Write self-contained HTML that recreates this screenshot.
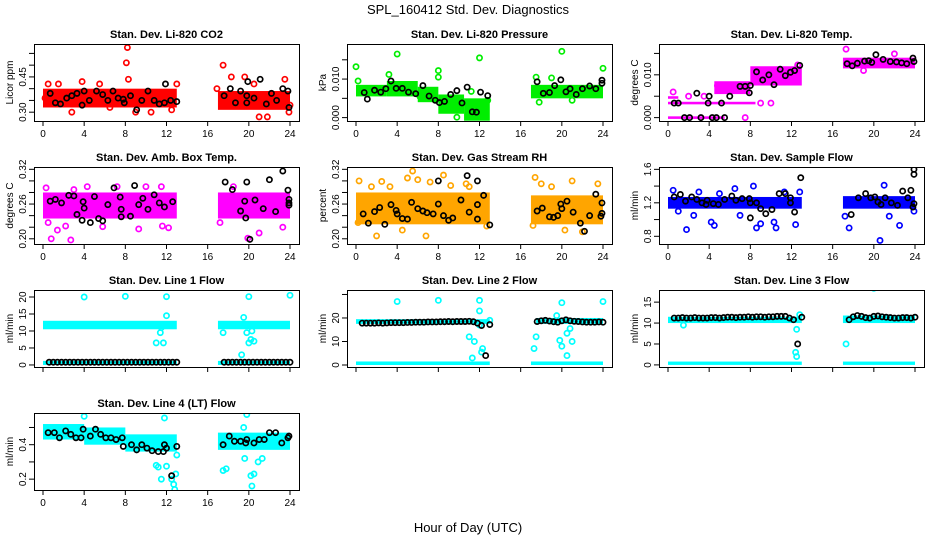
<!DOCTYPE html>
<html><head><meta charset="utf-8">
<style>
html,body{margin:0;padding:0;background:#fff;}
svg{display:block;font-family:"Liberation Sans",sans-serif;}
</style></head>
<body>
<svg id="chart" width="936" height="540" viewBox="0 0 936 540" xmlns="http://www.w3.org/2000/svg">
<text x="468" y="14" text-anchor="middle" font-size="13">SPL_160412  Std. Dev. Diagnostics</text>
<text x="468" y="532" text-anchor="middle" font-size="13">Hour of Day (UTC)</text>
<g id="panels"></g>
</svg>
<script>
// ---- shared x ticks ----
const xTicks = [0,4,8,12,16,20,24];
const chainHoursA = [0.6,1,1.4,1.8,2.2,2.6,3,3.4,3.8,4.2,4.6,5,5.4,5.8,6.2,6.6,7,7.4,7.8,8.2,8.6,9,9.4,9.8,10.2,10.6,11,11.4,11.8,12.2,12.6,13,17.6,18,18.4,18.8,19.2,19.6,20,20.4,20.8,21.2,21.6,22,22.4,22.8,23.2,23.6,24];

// ---- panel 1: CO2 ----
const co2Bands = [[0,13,0.32,0.40],[17,24,0.31,0.39]];
const co2Pts = [[8.2,0.575],[8.1,0.51],[3.8,0.43],[8.3,0.44],[17.5,0.50],[18.3,0.45],[19.6,0.45],[21,0.28],[21.8,0.28],[23.5,0.44],[0.5,0.42],[2.8,0.30],[9,0.30],[13,0.42],[5.5,0.42],[23.9,0.30],[20.5,0.42],[1.5,0.42],[6.5,0.32],[10.5,0.30],[12.5,0.31],[16.9,0.40],[0.2,0.36],[24,0.33]];
const co2Black = [[0.7,0.38],[1.2,0.34],[1.7,0.335],[2.3,0.36],[2.8,0.37],[3.3,0.38],[3.8,0.33],[4,0.39],[4.5,0.35],[5.2,0.39],[5.8,0.375],[6.3,0.35],[6.8,0.39],[7.3,0.36],[7.8,0.355],[7.9,0.34],[8.5,0.37],[9.1,0.31],[9.6,0.35],[10.2,0.39],[10.8,0.35],[11.3,0.335],[11.8,0.34],[11.9,0.42],[12.4,0.35],[13,0.345],[17.6,0.37],[18.2,0.40],[18.7,0.34],[19.2,0.39],[19.8,0.37],[19.8,0.34],[19.9,0.43],[20.5,0.36],[21.1,0.44],[21.7,0.335],[22.2,0.38],[22.7,0.35],[23.3,0.40],[23.8,0.39],[23.9,0.32]];
const co2Ticks = [0.30,0.35,0.40,0.45,0.50,0.55];
const co2Labels = ["0.30","","","0.45","",""];

// ---- panel 2: Pressure ----
const presBands = [[0,3,0.0055,0.0085],[3,6,0.0055,0.0095],[6,8,0.004,0.008],[8,10.5,0.001,0.006],[10.5,13,-0.0008,0.005],[17,24,0.005,0.0085]];
const presPts = [[0,0.0132],[0.2,0.0095],[4,0.0165],[12,0.0155],[20,0.0172],[24,0.0128],[8,0.0122],[8,0.0105],[3.2,0.0112],[17.5,0.0105],[6.2,0.0055],[9.8,0.0001],[11.2,0.0068],[12.8,0.0045],[21,0.0045],[19,0.0103],[17.8,0.004]];
const presBlack = [[0.8,0.0065],[1.1,0.0048],[1.8,0.0071],[2.4,0.0066],[2.9,0.0075],[3.4,0.0095],[3.9,0.0076],[4.5,0.0076],[5.1,0.0066],[5.8,0.0062],[6.5,0.0083],[7.1,0.0056],[7.7,0.0045],[8.1,0.0039],[8.6,0.0042],[9.2,0.006],[9.8,0.007],[10.3,0.0038],[10.8,0.0079],[11.3,0.0015],[11.7,0.0014],[12.1,0.0066],[12.8,0.0057],[17.6,0.0093],[18.2,0.0063],[18.8,0.0065],[19.3,0.0083],[19.9,0.0098],[20.4,0.0067],[20.8,0.0075],[21.4,0.006],[22,0.0075],[22.7,0.0082],[23.3,0.0075],[23.9,0.0097],[23.9,0.0089]];
const presTicks = [0,0.005,0.010,0.015];
const presLabels = ["0.000","","0.010",""];

// ---- panel 3: Li-820 Temp ----
const tempBands = [[0,5.5,-0.0003,0.0003],[0,8.5,0.0031,0.0037],[0,1,0.0044,0.005],[4.5,8,0.0055,0.0085],[8,13,0.0075,0.012],[17,24,0.0115,0.014]];
const tempPts = [[7.5,0],[17.3,0.016],[0.5,0.006],[4.8,0.0075],[12.6,0.0123],[19,0.011],[22,0.0149],[2,0.005],[3.5,0.005],[9,0.0034],[10,0.0034]];
const tempBlack = [[0.6,0.0034],[1,0.0034],[1.6,0],[2.1,0],[2.8,0.0057],[3.2,0],[3.9,0.0034],[4,0.005],[4.3,0],[4.7,0],[5.2,0.0034],[5.5,0],[6,0.005],[7,0.0073],[7.5,0.0073],[7.9,0.0058],[8,0.0075],[8.6,0.0107],[9.2,0.0088],[9.8,0.010],[10.3,0.0077],[10.9,0.0113],[11.4,0.0098],[11.9,0.0106],[12.3,0.011],[12.8,0.0122],[17.4,0.0126],[17.9,0.0121],[18.4,0.0127],[19.1,0.0132],[19.5,0.0133],[19.8,0.0129],[20.2,0.0147],[20.9,0.0136],[21.6,0.0131],[22.2,0.013],[22.7,0.0128],[23.2,0.0126],[23.8,0.0139],[23.9,0.0131]];
const tempTicks = [0,0.005,0.010,0.015];
const tempLabels = ["0.000","","0.010",""];

// ---- panel 4: Amb Box Temp ----
const ambBands = [[0,13,0.235,0.28],[17,24,0.235,0.28]];
const ambPts = [[0.3,0.288],[0.5,0.228],[0.8,0.2],[1.4,0.215],[2.2,0.222],[2.7,0.198],[4.3,0.29],[7.2,0.29],[11.5,0.29],[12.2,0.219],[17.2,0.228],[19.9,0.201],[21,0.21],[18.5,0.29],[11.6,0.222],[9.3,0.217],[5.8,0.221],[17.5,0.245],[23.3,0.22],[3,0.285],[10,0.29]];
const ambBlack = [[0.7,0.265],[1.2,0.268],[1.8,0.262],[2.5,0.275],[3,0.274],[3.3,0.242],[3.8,0.232],[3.9,0.264],[4,0.253],[4.6,0.228],[5,0.273],[5.4,0.235],[5.8,0.231],[6.3,0.259],[6.9,0.288],[7.5,0.272],[7.6,0.251],[7.6,0.238],[8.5,0.239],[8.9,0.292],[9.3,0.259],[9.7,0.27],[10.2,0.251],[10.8,0.276],[11.3,0.262],[11.8,0.255],[12.6,0.264],[17.7,0.298],[18.4,0.285],[19.2,0.248],[19.6,0.265],[19.7,0.236],[19.8,0.298],[20.1,0.199],[20.6,0.267],[21.4,0.252],[22,0.302],[22.6,0.247],[23.3,0.317],[23.8,0.284],[23.9,0.268],[23.9,0.262],[23.9,0.258]];
const ambTicks = [0.20,0.22,0.24,0.26,0.28,0.30,0.32];
const ambLabels = ["0.20","","","0.26","","","0.32"];

// ---- panel 5: Gas Stream RH ----
const rhBands = [[0,13,0.225,0.28],[17,24,0.225,0.275]];
const rhPts = [[0.3,0.3],[2.5,0.299],[3.3,0.29],[5.5,0.317],[6,0.302],[7.2,0.298],[8.5,0.31],[9.2,0.292],[10.7,0.295],[17.4,0.306],[18,0.295],[21,0.3],[23.5,0.295],[2,0.205],[6.8,0.205],[4.5,0.215],[12.7,0.222],[17.2,0.223],[20.3,0.215],[22,0.212],[0.2,0.228],[5,0.305],[11,0.29],[1.5,0.29],[19,0.29]];
const rhBlack = [[0.7,0.243],[1.2,0.227],[1.8,0.247],[2.3,0.254],[2.8,0.225],[3.4,0.259],[3.9,0.249],[4,0.243],[4.5,0.235],[5,0.234],[5.4,0.263],[6,0.252],[6.5,0.248],[6.9,0.245],[7.5,0.243],[8,0.26],[8,0.3],[8.5,0.24],[9,0.232],[9.4,0.236],[10.2,0.267],[10.8,0.309],[11,0.246],[11.8,0.259],[11.8,0.234],[11.8,0.3],[12.4,0.275],[13,0.224],[17.6,0.248],[18.1,0.253],[18.8,0.238],[19.2,0.237],[19.6,0.24],[19.9,0.26],[20,0.252],[20.5,0.265],[21.1,0.246],[21.8,0.227],[22.2,0.213],[22.7,0.24],[23.3,0.277],[23.8,0.239],[23.9,0.262],[23.9,0.244]];
const rhTicks = [0.20,0.22,0.24,0.26,0.28,0.30,0.32];
const rhLabels = ["0.20","","","0.26","","","0.32"];

// ---- panel 6: Sample Flow ----
const sfBands = [[0,13,1.13,1.27],[17,24,1.13,1.28]];
const sfPts = [[0.5,1.35],[1,1.1],[2.5,1.05],[3,1.33],[1.8,0.88],[4.2,0.97],[4.5,0.93],[6.5,1.37],[8.3,1.4],[8.6,0.9],[9,0.95],[10.3,0.97],[10.5,0.9],[12.4,0.94],[12.8,1.33],[17.2,1.04],[17.6,0.9],[20.6,0.75],[21,1.41],[21.5,1.04],[22.5,0.93],[23.9,1.1],[5,1.31],[11.3,1.33],[7,1.05]];
const sfBlack = [[0.6,1.27],[1.2,1.3],[1.7,1.22],[2.3,1.27],[2.8,1.24],[3.3,1.2],[3.7,1.18],[3.8,1.23],[4.4,1.19],[4.9,1.18],[5.5,1.24],[6.2,1.28],[6.6,1.23],[7.2,1.25],[7.9,1.25],[8,1.2],[8,1.02],[8.6,1.2],[9,1.13],[9.5,1.07],[10.1,1.12],[10.8,1.31],[11.4,1.31],[11.9,1.26],[11.9,1.2],[12.3,1.09],[12.9,1.5],[17.8,1.06],[18.5,1.26],[19.2,1.31],[19.7,1.26],[20.1,1.27],[20.4,1.21],[20.7,1.18],[21.1,1.26],[21.7,1.2],[22.3,1.17],[22.8,1.34],[23.3,1.26],[23.6,1.35],[23.9,1.6],[23.9,1.54],[23.9,1.19],[23.8,1.15]];
const sfTicks = [0.8,1.0,1.2,1.4,1.6];
const sfLabels = ["0.8","","1.2","","1.6"];

// ---- panel 7: Line 1 Flow ----
const l1Bands = [[0,13,10.5,13],[17,24,10.5,13],[0,13,0,1.2],[17,24,0,1.2]];
const l1Pts = [[4,20],[8,20.2],[12,20.1],[24,20.5],[20,20.1],[12,14.5],[11.4,9.5],[11,6.5],[11.7,6.5],[17.5,9.5],[19.5,14],[20,6.5],[20.2,7.5],[19.8,9.5],[20.3,10],[20.5,7],[19.3,3],[11.5,11]];
const l1BlackVals = [0.8,0.8,0.8,0.8,0.8,0.8,0.8,0.8,0.8,0.8,0.8,0.8,0.8,0.8,0.8,0.8,0.8,0.8,0.8,0.8,0.8,0.8,0.8,0.8,0.8,0.8,0.8,0.8,0.8,0.8,0.8,0.8,0.8,0.8,0.8,0.8,0.8,0.8,0.8,0.8,0.8,0.8,0.8,0.8,0.8,0.8,0.8,0.8,0.8];
const l1Ticks = [0,5,10,15,20];
const l1Labels = ["0","5","10","15","20"];

// ---- panel 8: Line 2 Flow ----
const l2Bands = [[0,13,17.5,19.5],[17.5,24,17.5,20],[0,13,0,1.5],[17,24,0,1.5]];
const l2Pts = [[4,27],[8,27.5],[12,27.5],[24,27],[20,26.5],[12,23],[11,12],[11.5,10],[12.3,7],[12.2,5.5],[17.5,12],[17.3,7],[19.8,10.5],[20,8],[20.5,4],[21,10],[20.5,13.5],[20.8,15.5],[19.5,21],[11.3,3],[12,17],[13,19]];
const l2BlackVals = [17.8,17.8,17.8,17.8,17.9,17.8,17.9,18,18,18,18,18.1,18.1,18.2,18.2,18.2,18.3,18.3,18.3,18.4,18.4,18.5,18.4,18.5,18.5,18.5,18.6,18.4,17.8,16.8,4,17.2,18.5,18.8,19,18.7,18.4,18.2,18.8,19.2,18.8,18.6,18.5,18.3,18.2,18.2,18.2,18.3,18.2];
const l2Ticks = [0,10,20,30];
const l2Labels = ["0","10","20",""];

// ---- panel 9: Line 3 Flow ----
const l3Bands = [[0,13,10,11.5],[17,24,10,11.8],[0,13,0,0.8],[17,24,0,0.8]];
const l3Pts = [[4,18.5],[8,18.8],[12,18.5],[20,18.3],[24,18.7],[17.3,5],[12.5,8.5],[12.4,3],[12.5,2],[12.8,12],[1.5,9.5]];
const l3BlackVals = [11.2,11.2,11.3,11.2,11.2,11.3,11.2,11.2,11.2,11.3,11.3,11.2,11.3,11.4,11.4,11.3,11.4,11.4,11.5,11.4,11.5,11.5,11.4,11.5,11.5,11.6,11.6,11.6,11.2,10.8,5,11.4,10.8,11.5,11.8,11.6,11.3,11.2,11.6,11.7,11.5,11.4,11.3,11.2,11.2,11.3,11.3,11.2,11.4];
const l3Ticks = [0,5,10,15];
const l3Labels = ["0","5","10","15"];

// ---- panel 10: Line 4 (LT) Flow ----
const l4Bands = [[0,4,0.43,0.52],[4,8,0.4,0.5],[8,13,0.36,0.46],[17,24,0.37,0.47]];
const l4Pts = [[4,0.565],[11.8,0.555],[19.8,0.575],[19.5,0.5],[11,0.28],[11.2,0.27],[11.5,0.2],[12,0.275],[12.5,0.2],[12.7,0.17],[12.9,0.23],[12.8,0.14],[17.5,0.25],[17.8,0.26],[20.2,0.22],[20.5,0.23],[20.3,0.16],[20.9,0.3],[19.6,0.32],[21.3,0.32],[13,0.34]];
const l4Black = [[0.5,0.47],[1.1,0.47],[1.6,0.44],[2.2,0.48],[2.7,0.46],[3.2,0.44],[3.7,0.44],[3.9,0.49],[4.6,0.45],[5.1,0.49],[5.6,0.46],[6.1,0.44],[6.6,0.44],[7.1,0.43],[7.7,0.44],[7.8,0.39],[8.6,0.4],[9.1,0.37],[9.6,0.4],[10.1,0.38],[10.6,0.365],[11.2,0.36],[11.7,0.36],[11.8,0.4],[12,0.38],[12.5,0.22],[13,0.39],[17.5,0.4],[18.1,0.45],[18.6,0.42],[19.2,0.42],[19.7,0.41],[19.8,0.43],[20.5,0.41],[21,0.43],[21.5,0.43],[22,0.47],[22.6,0.47],[23.2,0.41],[23.8,0.44],[23.9,0.45]];
const l4Ticks = [0.2,0.3,0.4,0.5];
const l4Labels = ["0.2","","0.4",""];

function zipHours(h, v){ return h.map((x,i)=>[x,v[i]]); }

const panels = [
 {name:"co2",title:"Stan. Dev. Li-820 CO2",ylab:"Licor ppm",col:0,row:0,ymin:0.2625,ymax:0.59,color:"#ff0000",bands:co2Bands,pts:co2Pts,black:co2Black,ticks:co2Ticks,labels:co2Labels,xlab:true},
 {name:"pressure",title:"Stan. Dev. Li-820 Pressure",ylab:"kPa",col:1,row:0,ymin:-0.00088,ymax:0.0191,color:"#00ee00",bands:presBands,pts:presPts,black:presBlack,ticks:presTicks,labels:presLabels,xlab:true},
 {name:"licor-temp",title:"Stan. Dev. Li-820 Temp.",ylab:"degrees C",col:2,row:0,ymin:-0.00079,ymax:0.0172,color:"#ff00ff",bands:tempBands,pts:tempPts,black:tempBlack,ticks:tempTicks,labels:tempLabels,xlab:true},
 {name:"amb-temp",title:"Stan. Dev. Amb. Box Temp.",ylab:"degrees C",col:0,row:1,ymin:0.191,ymax:0.324,color:"#ff00ff",bands:ambBands,pts:ambPts,black:ambBlack,ticks:ambTicks,labels:ambLabels,xlab:true},
 {name:"rh",title:"Stan. Dev. Gas Stream RH",ylab:"percent",col:1,row:1,ymin:0.191,ymax:0.324,color:"#ffa500",bands:rhBands,pts:rhPts,black:rhBlack,ticks:rhTicks,labels:rhLabels,xlab:true},
 {name:"sample-flow",title:"Stan. Dev. Sample Flow",ylab:"ml/min",col:2,row:1,ymin:0.708,ymax:1.628,color:"#0000ff",bands:sfBands,pts:sfPts,black:sfBlack,ticks:sfTicks,labels:sfLabels,xlab:true},
 {name:"line1",title:"Stan. Dev. Line 1 Flow",ylab:"ml/min",col:0,row:2,ymin:-0.6,ymax:22.06,color:"#00ffff",bands:l1Bands,pts:l1Pts,black:zipHours(chainHoursA,l1BlackVals),ticks:l1Ticks,labels:l1Labels,xlab:false},
 {name:"line2",title:"Stan. Dev. Line 2 Flow",ylab:"ml/min",col:1,row:2,ymin:-0.85,ymax:31.9,color:"#00ffff",bands:l2Bands,pts:l2Pts,black:zipHours(chainHoursA,l2BlackVals),ticks:l2Ticks,labels:l2Labels,xlab:false},
 {name:"line3",title:"Stan. Dev. Line 3 Flow",ylab:"ml/min",col:2,row:2,ymin:-0.5,ymax:17.9,color:"#00ffff",bands:l3Bands,pts:l3Pts,black:zipHours(chainHoursA,l3BlackVals),ticks:l3Ticks,labels:l3Labels,xlab:false},
 {name:"line4",title:"Stan. Dev. Line 4 (LT) Flow",ylab:"ml/min",col:0,row:3,ymin:0.137,ymax:0.584,color:"#00ffff",bands:l4Bands,pts:l4Pts,black:l4Black,ticks:l4Ticks,labels:l4Labels,xlab:true}
];

const NS="http://www.w3.org/2000/svg";
const colL=[34,347,659], rowT=[44,167,290,413], PW=265, PH=77;
function mk(tag, attrs, parent){
  const e=document.createElementNS(NS,tag);
  for(const k in attrs) e.setAttribute(k, attrs[k]);
  parent.appendChild(e); return e;
}
const root=document.getElementById('panels');
panels.forEach(p=>{
  const L=colL[p.col], T=rowT[p.row], R=L+PW, B=T+PH;
  const xs = h => L+9 + h/24*(PW-18);
  const ys = v => B - (v-p.ymin)/(p.ymax-p.ymin)*PH;
  const g=mk('g',{},root);
  
  
  const clip=mk('clipPath',{id:'clip-'+p.name},g);
  mk('rect',{x:L,y:T,width:PW,height:PH},clip);
  const t=mk('text',{x:(L+R)/2,y:T-6,'text-anchor':'middle','font-size':'11','font-weight':'bold'},g);
  t.textContent=p.title;
  
  
  const yl=mk('text',{x:0,y:0,'text-anchor':'middle','font-size':'10',transform:`translate(${L-21},${(T+B)/2}) rotate(-90)`},g);
  yl.textContent=p.ylab;
  
  
  const plot=mk('g',{'clip-path':`url(#clip-${p.name})`},g);
  p.bands.forEach(b=>{
    const r=mk('rect',{x:xs(b[0]),y:ys(b[3]),width:xs(b[1])-xs(b[0]),height:ys(b[2])-ys(b[3]),fill:p.color},plot);
    
    
  });
  p.pts.forEach(pt=>{
    const c=mk('circle',{cx:xs(pt[0]),cy:ys(pt[1]),r:2.6,fill:'none',stroke:p.color,'stroke-width':1.7},plot);
    
    
  });
  p.black.forEach(pt=>{
    const c=mk('circle',{cx:xs(pt[0]),cy:ys(pt[1]),r:2.6,fill:'none',stroke:'#000','stroke-width':1.7},plot);
    
    
  });
  const box=mk('rect',{x:L+0.5,y:T+0.5,width:PW,height:PH,fill:'none',stroke:'#000','stroke-width':1},g);
  
  
  // x axis
  const xa=mk('g',{},g);
  
  
  mk('line',{x1:xs(0),x2:xs(24),y1:B+0.5,y2:B+0.5,stroke:'#000'},xa);
  xTicks.forEach(v=>{
    mk('line',{x1:xs(v),x2:xs(v),y1:B,y2:B+5,stroke:'#000'},xa);
    if(p.xlab){
      const tl=mk('text',{x:xs(v),y:B+16,'text-anchor':'middle','font-size':'10'},xa);
      tl.textContent=String(v);
      
      
    }
  });
  // y axis
  const ya=mk('g',{},g);
  
  
  mk('line',{x1:L+0.5,x2:L+0.5,y1:ys(p.ticks[0]),y2:ys(p.ticks[p.ticks.length-1]),stroke:'#000'},ya);
  p.ticks.forEach((v,i)=>{
    mk('line',{x1:L-5,x2:L,y1:ys(v),y2:ys(v),stroke:'#000'},ya);
    if(p.labels[i]){
      const tl=mk('text',{x:0,y:0,'text-anchor':'middle','font-size':'10',transform:`translate(${L-8},${ys(v)}) rotate(-90)`},ya);
      tl.textContent=p.labels[i];
      
      
    }
  });
});
</script>
</body></html>
